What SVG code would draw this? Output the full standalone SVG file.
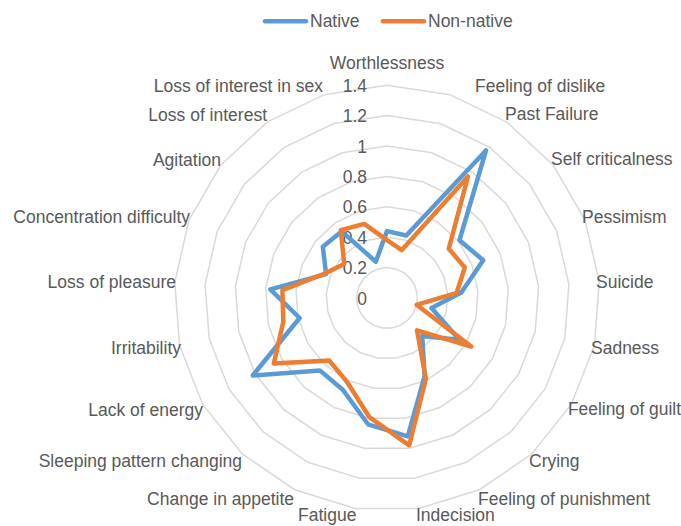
<svg xmlns="http://www.w3.org/2000/svg" width="681" height="526" viewBox="0 0 681 526">
<style>
  text { font-family: "Liberation Sans", Arial, sans-serif; font-size: 17.5px; fill: #595959; }
  .ring { fill: none; stroke: #D9D9D9; stroke-width: 1.5; }
  .native { fill: none; stroke: #5B9BD5; stroke-width: 4.5; stroke-linejoin: round; }
  .nonnative { fill: none; stroke: #ED7D31; stroke-width: 4.5; stroke-linejoin: round; }
  .s { text-anchor: end; }
  .m { text-anchor: middle; }
  .e { text-anchor: end; }
</style>
<defs>
  <polygon id="gon" vector-effect="non-scaling-stroke" points="0,-100 29.476,-95.557 56.332,-82.624 78.183,-62.349 93.087,-36.534 99.72,-7.473 97.493,22.252 86.603,50 68.017,73.305 43.388,90.097 14.904,98.883 -14.904,98.883 -43.388,90.097 -68.017,73.305 -86.603,50 -97.493,22.252 -99.72,-7.473 -93.087,-36.534 -78.183,-62.349 -56.332,-82.624 -29.476,-95.557"/>
</defs>
<rect width="681" height="526" fill="#FFFFFF"/>
<g id="grid">
  <use href="#gon" class="ring" transform="translate(387 298) scale(0.304)"/>
  <use href="#gon" class="ring" transform="translate(387 298) scale(0.608)"/>
  <use href="#gon" class="ring" transform="translate(387 298) scale(0.912)"/>
  <use href="#gon" class="ring" transform="translate(387 298) scale(1.216)"/>
  <use href="#gon" class="ring" transform="translate(387 298) scale(1.52)"/>
  <use href="#gon" class="ring" transform="translate(387 298) scale(1.824)"/>
  <use href="#gon" class="ring" transform="translate(387 298) scale(2.128)"/>
</g>
<g id="scale-labels" class="s">
  <text x="367" y="304.5">0</text>
  <text x="367" y="274.1">0.2</text>
  <text x="367" y="243.7">0.4</text>
  <text x="367" y="213.3">0.6</text>
  <text x="367" y="182.9">0.8</text>
  <text x="367" y="152.5">1</text>
  <text x="367" y="122.1">1.2</text>
  <text x="367" y="91.7">1.4</text>
</g>
<g id="series" transform="translate(387 298)">
  <polygon id="native-series" class="native" points="0,-66.9 19.3,-62.5 99,-147.5 72.5,-57.8 96.2,-37.8 74.3,-5.6 44.5,10.1 72.4,41.8 35.2,37.9 37.6,78 20.8,138.3 -19,126.3 -44.2,91.7 -67.2,72.4 -134.3,77.5 -87.4,20 -116.7,-8.7 -60.9,-23.9 -64.2,-51.2 -45.4,-66.6 -11.2,-36.3"/>
  <polygon id="nonnative-series" class="nonnative" points="0,-57.8 14.8,-47.9 81,-121.5 61.8,-49.3 77.8,-30.5 69.7,-5.2 29.6,6.8 84.3,48.6 30,32.3 38.9,80.8 22.2,147.3 -17.9,118.8 -40.2,83.5 -57.9,62.4 -113.2,65.4 -103.7,23.7 -104.6,-7.8 -62.3,-24.4 -42.8,-34.1 -46.2,-67.8 -22.8,-74.1"/>
</g>
<g id="category-labels">
  <text class="m" x="387" y="69">Worthlessness</text>
  <text x="475" y="92">Feeling of dislike</text>
  <text x="505" y="120">Past Failure</text>
  <text x="551" y="165">Self criticalness</text>
  <text x="582" y="223">Pessimism</text>
  <text x="596" y="288">Suicide</text>
  <text x="591" y="354">Sadness</text>
  <text x="568" y="415" textLength="113" lengthAdjust="spacingAndGlyphs">Feeling of guilt</text>
  <text x="529" y="467">Crying</text>
  <text x="478" y="505">Feeling of punishment</text>
  <text x="416" y="521">Indecision</text>
  <text x="298" y="521">Fatigue</text>
  <text class="e" x="294" y="505">Change in appetite</text>
  <text class="e" x="242" y="467">Sleeping pattern changing</text>
  <text class="e" x="203" y="416">Lack of energy</text>
  <text class="e" x="181" y="354">Irritability</text>
  <text class="e" x="176" y="288">Loss of pleasure</text>
  <text class="e" x="190" y="223">Concentration difficulty</text>
  <text class="e" x="221" y="166">Agitation</text>
  <text class="e" x="267" y="121">Loss of interest</text>
  <text class="e" x="323" y="92">Loss of interest in sex</text>
</g>
<g id="legend">
  <line x1="265" y1="21.3" x2="306" y2="21.3" stroke="#5B9BD5" stroke-width="4.5" stroke-linecap="round"/>
  <text x="310" y="27">Native</text>
  <line x1="383" y1="21.3" x2="424" y2="21.3" stroke="#ED7D31" stroke-width="4.5" stroke-linecap="round"/>
  <text x="428" y="27">Non-native</text>
</g>
</svg>
